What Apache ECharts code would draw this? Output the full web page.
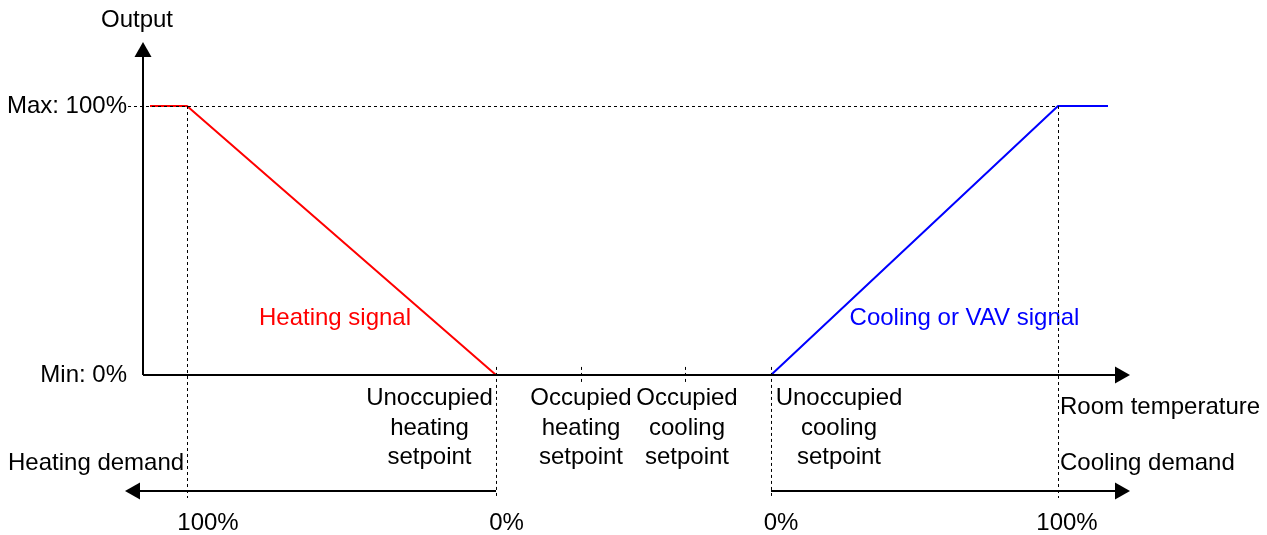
<!DOCTYPE html>
<html><head><meta charset="utf-8">
<script src="https://cdn.jsdelivr.net/npm/echarts@6/dist/echarts.min.js"></script>
<style>html,body{margin:0;padding:0;background:#fff}#c{width:1267px;height:535px}</style>
</head><body><div id="c"></div>
<script>
// ---- Data (x: relative room-temperature units, y: output %) ----
const heatingSignal = [[0.7, 100], [4.4, 100], [35.3, 0]];
const coolingSignal = [[62.8, 0], [91.5, 100], [96.5, 100]];
const heat100X = 4.4, unoccHeatX = 35.3, occHeatX = 43.8, occCoolX = 54.2, unoccCoolX = 62.8, cool100X = 91.5;
const maxOut = 100, minOut = 0;
const demandY = -43.1;
const yTickLabels = { 0: 'Min: 0%', 100: 'Max: 100%' };
// annotations: [text, x, y]
const blackLabelsCenter = [
  ['Output', -0.6, 132],
  ['Unoccupied\nheating\nsetpoint', 28.65, -19.7],
  ['Occupied\nheating\nsetpoint', 43.8, -19.7],
  ['Occupied\ncooling\nsetpoint', 54.4, -19.7],
  ['Unoccupied\ncooling\nsetpoint', 69.6, -19.7],
  ['100%', 6.5, -55],
  ['0%', 36.35, -55],
  ['0%', 63.8, -55],
  ['100%', 92.4, -55]
];
const blackLabelsLeft = [
  ['Room temperature', 91.7, -11.9],
  ['Heating demand', -13.5, -32.7],
  ['Cooling demand', 91.7, -32.7]
];
const signalLabels = [
  ['Heating signal', 19.2, 21.2, '#ff0000'],
  ['Cooling or VAV signal', 82.15, 21.2, '#0000ff']
];
// arrow axis ends (line end = arrow centre)
const axisEnds = { xEnd: 97.95, yEnd: 121.0, heatDemandEnd: -1.05, coolDemandEnd: 97.95, dotStart: -1.5, tickTop: 3, tickBottom: -3, dropBottom: -45.7 };

const FONT = "'Liberation Sans', Arial, sans-serif";
const FS = 24;

const chart = echarts.init(document.getElementById('c'), null, { renderer: 'canvas' });

function seg(a, b, arrow) {
  return [{ coord: a, symbol: 'none' }, { coord: b, symbol: arrow ? 'triangle' : 'none' }];
}
function textItems(arr, align) {
  return arr.map(d => ({
    value: [d[1], d[2]],
    label: { formatter: d[0], align: align, color: d[3] || '#000' }
  }));
}
const textLabel = { show: true, position: 'inside', verticalAlign: 'middle', fontSize: FS, fontFamily: FONT, lineHeight: 29.5, opacity: 1, textBorderWidth: 0 };

const option = {
  animation: false,
  backgroundColor: '#fff',
  grid: { left: 118, top: 25.3, width: 1025, height: 497.65, containLabel: false, outerBoundsMode: 'none' },
  xAxis: { type: 'value', min: -2.5, max: 100, show: false },
  yAxis: {
    type: 'value', min: -55, max: 130, interval: 5,
    axisLine: { show: false, onZero: false },
    axisTick: { show: false }, splitLine: { show: false },
    axisLabel: {
      margin: -9, fontSize: FS, fontFamily: FONT, color: '#000',
      formatter: v => yTickLabels[v] || ''
    }
  },
  series: [
    { // dotted guides
      type: 'line', data: [], silent: true, clip: false,
      markLine: {
        silent: true, animation: false, symbol: 'none',
        label: { show: false },
        lineStyle: { color: '#000', width: 1, type: [3, 3] },
        emphasis: { disabled: true },
        data: [
          seg([axisEnds.dotStart, maxOut], [cool100X, maxOut]),
          seg([heat100X, maxOut], [heat100X, axisEnds.dropBottom]),
          seg([unoccHeatX, axisEnds.tickTop], [unoccHeatX, axisEnds.dropBottom]),
          seg([occHeatX, axisEnds.tickTop], [occHeatX, axisEnds.tickBottom]),
          seg([occCoolX, axisEnds.tickTop], [occCoolX, axisEnds.tickBottom]),
          seg([unoccCoolX, axisEnds.tickTop], [unoccCoolX, axisEnds.dropBottom]),
          seg([cool100X, maxOut], [cool100X, axisEnds.dropBottom])
        ]
      }
    },
    { // axes with arrows
      type: 'line', data: [], silent: true, clip: false,
      markLine: {
        silent: true, animation: false,
        symbolSize: [17, 15],
        label: { show: false },
        lineStyle: { color: '#000', width: 2, type: 'solid' },
        itemStyle: { color: '#000' },
        emphasis: { disabled: true },
        data: [
          seg([0, minOut], [0, axisEnds.yEnd], true),
          seg([0, minOut], [axisEnds.xEnd, minOut], true),
          seg([unoccHeatX, demandY], [axisEnds.heatDemandEnd, demandY], true),
          seg([unoccCoolX, demandY], [axisEnds.coolDemandEnd, demandY], true)
        ]
      }
    },
    {
      type: 'line', data: heatingSignal, symbol: 'none', silent: true, clip: false,
      lineStyle: { color: '#ff0000', width: 2 }
    },
    {
      type: 'line', data: coolingSignal, symbol: 'none', silent: true, clip: false,
      lineStyle: { color: '#0000ff', width: 2 }
    },
    {
      type: 'scatter', symbolSize: 0, silent: true, clip: false, itemStyle: { opacity: 1 },
      label: textLabel,
      data: textItems(blackLabelsCenter, 'center')
    },
    {
      type: 'scatter', symbolSize: 0, silent: true, clip: false, itemStyle: { opacity: 1 },
      label: textLabel,
      data: textItems(blackLabelsLeft, 'left')
    },
    {
      type: 'scatter', symbolSize: 0, silent: true, clip: false, itemStyle: { opacity: 1 },
      label: textLabel,
      data: textItems(signalLabels, 'center')
    }
  ]
};
chart.setOption(option);
</script>
</body></html>
